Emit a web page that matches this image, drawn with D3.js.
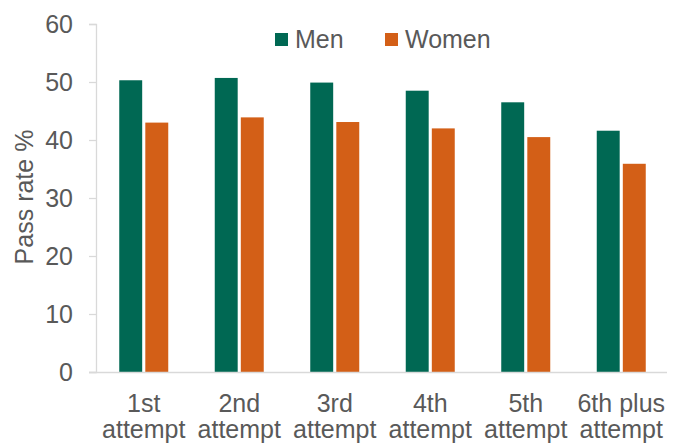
<!doctype html>
<html lang="en">
<head>
<meta charset="utf-8">
<script src="https://d3js.org/d3.v7.min.js"></script>
<style>
  body { margin: 0; background: #fff; }
  svg text { font-family: "Liberation Sans", Arial, sans-serif; fill: #595959; }
</style>
</head>
<body>
<svg width="681" height="445"></svg>
<script>
// values
var categories = ["1st attempt", "2nd attempt", "3rd attempt", "4th attempt", "5th attempt", "6th plus attempt"];
var categoryLines = [["1st", "attempt"], ["2nd", "attempt"], ["3rd", "attempt"], ["4th", "attempt"], ["5th", "attempt"], ["6th plus", "attempt"]];
var series = ["Men", "Women"];
var men = [50.3, 50.7, 49.9, 48.5, 46.5, 41.6];
var women = [43.0, 43.9, 43.1, 42.0, 40.5, 35.9];
var yTicks = [0, 10, 20, 30, 40, 50, 60];
var colors = ["#006853", "#d35f17"];

var svg = d3.select("svg"),
    margin = {top: 24, right: 12, bottom: 73, left: 96},
    width = 681 - margin.left - margin.right,
    height = 445 - margin.top - margin.bottom;

var g = svg.append("g").attr("transform", "translate(" + margin.left + "," + margin.top + ")");

var x = d3.scaleBand().domain(categories).range([0, width]).padding(0);
var x1 = d3.scaleBand().domain(series).range([0, 49]).paddingInner(0.12);
var y = d3.scaleLinear().domain([0, 60]).range([height, 0]);

// y axis
var yAxis = g.append("g")
    .call(d3.axisLeft(y).tickValues(yTicks).tickSize(7).tickPadding(16));
yAxis.select(".domain").attr("stroke", "#d9d9d9").attr("stroke-width", 1.3);
yAxis.selectAll(".tick line").attr("stroke", "#d9d9d9").attr("stroke-width", 1.3);
yAxis.selectAll(".tick text").attr("font-size", 25).style("fill", "#595959");

// bars
var groups = g.selectAll(".grp")
    .data(categories)
    .enter().append("g")
    .attr("transform", function(d) { return "translate(" + (x(d) + x.bandwidth() / 2 - 24.5) + ",0)"; });

groups.selectAll("rect")
    .data(function(d, i) { return [{s: "Men", v: men[i]}, {s: "Women", v: women[i]}]; })
    .enter().append("rect")
    .attr("x", function(d) { return x1(d.s); })
    .attr("width", x1.bandwidth())
    .attr("y", function(d) { return y(d.v); })
    .attr("height", function(d) { return height - y(d.v); })
    .attr("fill", function(d, i) { return colors[i]; });

// x axis
var xAxis = g.append("g")
    .attr("transform", "translate(0," + height + ")")
    .call(d3.axisBottom(x).tickSize(0).tickFormat(""));
xAxis.select(".domain").attr("stroke", "#d9d9d9").attr("stroke-width", 1.3)
    .attr("d", "M-7,0.5H" + (width - 2));

xAxis.selectAll(".tick").each(function(d, i) {
  var t = d3.select(this).append("text")
      .attr("text-anchor", "middle")
      .attr("font-size", 25)
      .style("fill", "#595959");
  categoryLines[i].forEach(function(line, j) {
    t.append("tspan").attr("x", 0).attr("y", 39.5 + j * 26.5).text(line);
  });
});

// y title
svg.append("text")
    .attr("transform", "translate(33,197) rotate(-90)")
    .attr("text-anchor", "middle")
    .attr("font-size", 25)
    .text("Pass rate %");

// legend
var legend = svg.append("g");
var legendX = [275, 385];
series.forEach(function(s, i) {
  legend.append("rect")
      .attr("x", legendX[i]).attr("y", 33)
      .attr("width", 13).attr("height", 13)
      .attr("fill", colors[i]);
  legend.append("text")
      .attr("x", legendX[i] + 20).attr("y", 48)
      .attr("font-size", 25)
      .text(s);
});
</script>
</body>
</html>
